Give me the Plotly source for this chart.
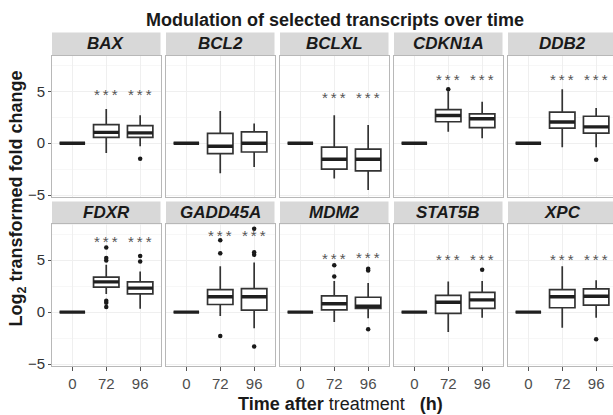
import plotly.graph_objects as go

# ---------------- data ----------------
genes = ["BAX", "BCL2", "BCLXL", "CDKN1A", "DDB2",
         "FDXR", "GADD45A", "MDM2", "STAT5B", "XPC"]
times = ["0", "72", "96"]

# time 0 is the reference (all zero)
q1_72 = [0.57, -1.0, -2.5, 2.07, 1.45, 2.4, 0.73, 0.22, -0.12, 0.42]
med_72 = [1.04, -0.3, -1.54, 2.67, 2.05, 2.9, 1.47, 0.8, 0.95, 1.47]
q3_72 = [1.8, 0.94, -0.38, 3.24, 3.0, 3.37, 2.16, 1.56, 1.6, 2.16]
lo_72 = [-0.94, -2.9, -3.4, 1.1, -0.38, 1.75, -0.38, -0.95, -1.9, -1.5]
hi_72 = [3.3, 3.1, 2.7, 5.0, 5.2, 4.55, 4.4, 3.0, 2.95, 4.4]
out_72 = [[], [], [], [5.2], [], [4.95, 5.2, 6.2, 1.1, 0.9, 0.48],
          [5.65, 6.9, -2.3], [3.43, 4.5], [], []]

q1_96 = [0.57, -0.85, -2.67, 1.5, 0.97, 1.75, 0.19, 0.35, 0.35, 0.67]
med_96 = [1.0, 0.0, -1.54, 2.36, 1.57, 2.3, 1.47, 0.57, 1.18, 1.52]
q3_96 = [1.7, 1.1, -0.57, 2.83, 2.6, 2.9, 2.26, 1.43, 1.9, 2.23]
lo_96 = [-0.3, -2.3, -4.5, 0.47, -0.38, 0.32, -1.55, -0.6, -0.53, -0.53]
hi_96 = [2.7, 1.9, 1.76, 4.0, 3.4, 3.9, 4.76, 2.8, 3.0, 3.05]
out_96 = [[-1.5], [], [], [], [-1.6], [4.86, 5.4], [5.5, 5.75, 8.0, -3.3],
          [4.0, 4.16, -1.65], [4.07], [-2.6]]

# significance label heights (None = not significant)
star_72 = [5.0, None, 4.65, 6.4, 6.4, 7.1, 7.65, 5.4, 5.3, 5.3]
star_96 = [5.0, None, 4.65, 6.4, 6.4, 7.1, 7.65, 5.5, 5.3, 5.3]

y_ticks = [-5, 0, 5]
y_tick_text = ["\u22125", "0", "5"]

# ---------------- layout geometry ----------------
W, H = 613, 415
FONT = "Liberation Sans, Arial, sans-serif"
col_left = [52, 166, 280, 394, 508]
col_w = 108.5
row_strip = [(33, 56.5), (205, 228)]
row_body = [(56.5, 200), (228, 372)]
BOXW = 0.75
YR = [-5.15, 8.45]


def fx(p):
    return p / W


def fy(p):
    return 1 - p / H


fig = go.Figure()
layout = dict(width=W, height=H, margin=dict(l=0, r=0, t=0, b=0),
              paper_bgcolor="white", plot_bgcolor="white",
              showlegend=False, font=dict(family=FONT))
shapes = []
annotations = []

for g, gene in enumerate(genes):
    r, c = divmod(g, 5)
    n = g + 1
    xs = "" if n == 1 else str(n)
    xref, yref = "x" + xs, "y" + xs
    left = col_left[c]
    right = min(left + col_w, W)
    xmax = 0.4 + (right - left) / col_w * 3.2
    pos = [1, 2, 3]

    fig.add_trace(go.Box(
        x=pos, q1=[0, q1_72[g], q1_96[g]], median=[0, med_72[g], med_96[g]],
        q3=[0, q3_72[g], q3_96[g]], lowerfence=[0, lo_72[g], lo_96[g]],
        upperfence=[0, hi_72[g], hi_96[g]], width=BOXW, whiskerwidth=0,
        fillcolor="white", line=dict(color="#333333", width=1.7),
        boxpoints=False, hoverinfo="skip", xaxis=xref, yaxis=yref))

    # thick median bars
    mx, my = [], []
    for p, m in zip(pos, [0, med_72[g], med_96[g]]):
        mx += [p - BOXW / 2, p + BOXW / 2, None]
        my += [m, m, None]
    fig.add_trace(go.Scatter(x=mx, y=my, mode="lines",
                             line=dict(color="#1f1f1f", width=3.4),
                             hoverinfo="skip", xaxis=xref, yaxis=yref))

    # outliers
    ox = [2] * len(out_72[g]) + [3] * len(out_96[g])
    oy = out_72[g] + out_96[g]
    if oy:
        fig.add_trace(go.Scatter(x=ox, y=oy, mode="markers",
                                 marker=dict(color="#1a1a1a", size=4.5),
                                 hoverinfo="skip", xaxis=xref, yaxis=yref))

    for p, s in zip([2, 3], [star_72[g], star_96[g]]):
        if s is not None:
            annotations.append(dict(x=p, y=s, xref=xref, yref=yref,
                                    xanchor="center", yanchor="middle",
                                    text="*\u2009*\u2009*", showarrow=False,
                                    yshift=-3,
                                    font=dict(size=15, color="#555555", family=FONT)))

    b0, b1 = row_body[r]
    layout["xaxis" + xs] = dict(
        domain=[fx(left), fx(right)], anchor=yref, range=[0.4, xmax],
        tickvals=pos, ticktext=times, showticklabels=(r == 1),
        ticks="outside" if r == 1 else "", ticklen=4, tickcolor="#555555",
        tickfont=dict(size=15, color="#4d4d4d", family=FONT),
        showgrid=True, gridcolor="#efefef", gridwidth=1, zeroline=False,
        showline=True, mirror=True, linecolor="#b8b8b8", linewidth=1,
        fixedrange=True)
    layout["yaxis" + xs] = dict(
        domain=[fy(b1), fy(b0)], anchor=xref, range=YR,
        tickvals=y_ticks, ticktext=y_tick_text, showticklabels=(c == 0),
        ticks="outside" if c == 0 else "", ticklen=3, tickcolor="#555555",
        tickfont=dict(size=15, color="#333333", family=FONT),
        showgrid=True, gridcolor="#efefef", gridwidth=1, zeroline=False,
        minor=dict(tickvals=[-2.5, 2.5, 7.5], showgrid=True,
                   gridcolor="#f7f7f7", gridwidth=1, ticks=""),
        showline=True, mirror=(c != 4), linecolor="#b8b8b8", linewidth=1,
        fixedrange=True)

    s0, s1 = row_strip[r]
    shapes.append(dict(type="rect", xref="paper", yref="paper",
                       x0=fx(left), x1=fx(right), y0=fy(s1), y1=fy(s0),
                       fillcolor="#d8d8d8", line=dict(width=0), layer="below"))
    annotations.append(dict(x=fx(left + col_w / 2), y=fy((s0 + s1) / 2),
                            xref="paper", yref="paper",
                            xanchor="center", yanchor="middle",
                            text="<b><i>" + gene + "</i></b>", showarrow=False,
                            font=dict(size=17, color="#1a1a1a", family=FONT)))

annotations.append(dict(x=fx(335), y=fy(20), xref="paper", yref="paper",
                        xanchor="center", yanchor="middle",
                        text="<b>Modulation of selected transcripts over time</b>",
                        showarrow=False,
                        font=dict(size=18, color="#1a1a1a", family=FONT)))
annotations.append(dict(x=fx(18), y=fy(202), xref="paper", yref="paper",
                        xanchor="center", yanchor="middle",
                        text="<b>Log<sub>2</sub> transformed fold change</b>",
                        textangle=-90, showarrow=False,
                        font=dict(size=18, color="#1a1a1a", family=FONT)))
annotations.append(dict(x=fx(340), y=fy(405), xref="paper", yref="paper",
                        xanchor="center", yanchor="middle", yshift=-6,
                        text="<b>Time after</b> treatment \u00a0\u00a0<b>(h)</b>",
                        showarrow=False,
                        font=dict(size=18, color="#1a1a1a", family=FONT)))

layout["shapes"] = shapes
layout["annotations"] = annotations
fig.update_layout(**layout)
fig.write_html("out.html")
